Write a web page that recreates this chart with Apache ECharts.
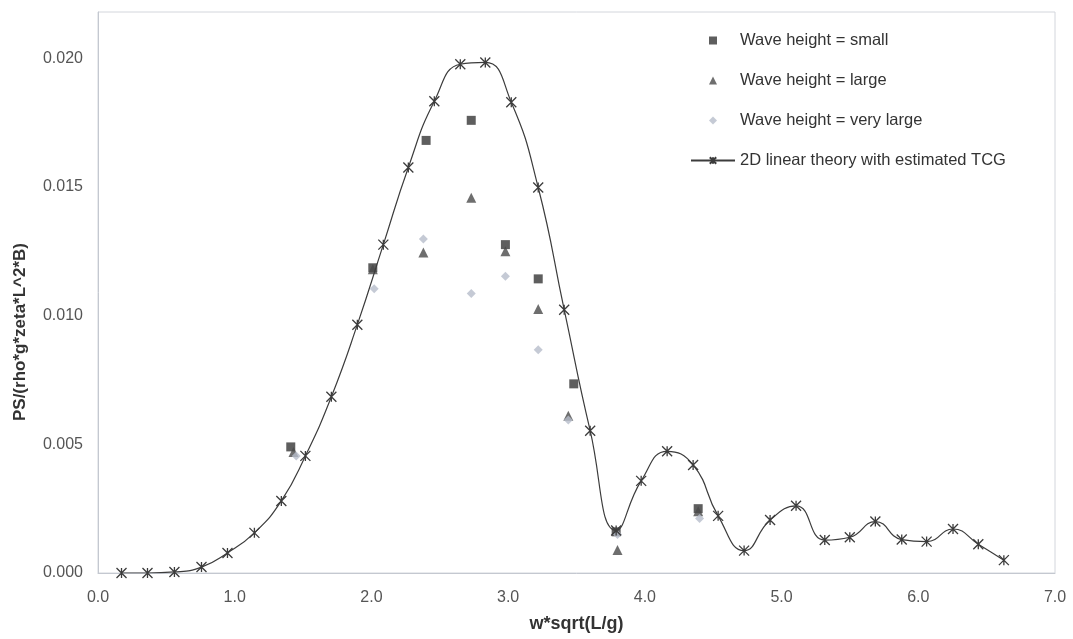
<!DOCTYPE html>
<html>
<head>
<meta charset="utf-8">
<script src="https://cdn.jsdelivr.net/npm/echarts@6/dist/echarts.min.js"></script>
<style>
html,body{margin:0;padding:0;background:#fff;}
#chart{width:1073px;height:639px;}
</style>
</head>
<body>
<div id="chart"></div>
<script>
// Theory curve (2D linear theory with estimated TCG)
var theoryX = [0.172,0.362,0.559,0.757,0.947,1.144,1.341,1.517,1.707,1.897,2.087,2.270,2.460,2.650,2.833,3.023,3.220,3.410,3.600,3.790,3.973,4.163,4.353,4.536,4.726,4.916,5.106,5.316,5.499,5.686,5.879,6.061,6.254,6.439,6.626];
var theoryY = [0.00000,0.00000,0.00004,0.00023,0.00078,0.00156,0.00280,0.00455,0.00685,0.00965,0.01276,0.01576,0.01833,0.01977,0.01984,0.01829,0.01498,0.01023,0.00553,0.00165,0.00358,0.00473,0.00420,0.00222,0.00087,0.00206,0.00261,0.00128,0.00139,0.00200,0.00130,0.00122,0.00171,0.00112,0.00050];

// Measurements
var smallX = [1.41,2.01,2.40,2.73,2.98,3.22,3.48,3.79,4.39];
var smallY = [0.00490,0.01186,0.01681,0.01759,0.01276,0.01143,0.00735,0.00160,0.00250];
var largeX = [1.43,2.01,2.38,2.73,2.98,3.22,3.44,3.80,4.39];
var largeY = [0.00470,0.01180,0.01245,0.01458,0.01250,0.01026,0.00611,0.00089,0.00240];
var vlargeX = [1.45,2.02,2.38,2.73,2.98,3.22,3.44,3.80,4.40];
var vlargeY = [0.00455,0.01105,0.01298,0.01086,0.01153,0.00868,0.00595,0.00150,0.00212];

var seriesNames = ['Wave height = small','Wave height = large','Wave height = very large','2D linear theory with estimated TCG'];
var xTitle = 'w*sqrt(L/g)';
var yTitle = 'PS/(rho*g*zeta*L^2*B)';

function pairs(xs, ys){ return xs.map(function(x,i){ return [x, ys[i]]; }); }

var asterisk = 'path://M0,0L10,10M10,0L0,10M5,0L5,10';
var iconSquare = 'path://M0,0L10,0L10,10L0,10Z';
var iconTriangle = 'path://M5,0L10,10L0,10Z';
var iconDiamond = 'path://M5,0L10,5L5,10L0,5Z';
var chart = echarts.init(document.getElementById('chart'), null, {renderer:'canvas'});
var fontFam = '"Liberation Sans", Arial, sans-serif';
chart.setOption({
  animation:false,
  backgroundColor:'#ffffff',
  grid:{left:98, top:12, width:957, bottom:66, show:true, borderColor:'#d3d6dc', borderWidth:1, backgroundColor:'transparent'},
  legend:{
    orient:'vertical', left:685, top:27, itemGap:23, itemWidth:44, itemHeight:8,
    textStyle:{fontFamily:fontFam, fontSize:16.5, color:'#333'},
    data:[
      {name:seriesNames[0], icon:iconSquare},
      {name:seriesNames[1], icon:iconTriangle},
      {name:seriesNames[2], icon:iconDiamond},
      {name:seriesNames[3]}
    ]
  },
  graphic:[{
    type:'text', x:20, y:332, rotation:Math.PI/2,
    style:{text:yTitle, font:'bold 17px "Liberation Sans", Arial, sans-serif', fill:'#333',
      align:'center', verticalAlign:'middle', textAlign:'center', textVerticalAlign:'middle'}
  }],
  xAxis:{
    type:'value', min:0, max:7, interval:1,
    name:xTitle, nameLocation:'middle', nameGap:42,
    nameTextStyle:{fontFamily:fontFam, fontSize:18, fontWeight:'bold', color:'#333'},
    axisLine:{show:true, lineStyle:{color:'#c4c8d0', width:1}},
    axisTick:{show:false},
    splitLine:{show:false},
    axisLabel:{fontFamily:fontFam, fontSize:16, color:'#555', margin:17,
      formatter:function(v){ return v.toFixed(1); }}
  },
  yAxis:{
    type:'value', min:0, max:0.0218, interval:0.005,
    axisLine:{show:true, lineStyle:{color:'#c4c8d0', width:1}},
    axisTick:{show:false},
    splitLine:{show:false},
    axisLabel:{fontFamily:fontFam, fontSize:16, color:'#555', margin:15, showMaxLabel:false,
      formatter:function(v){ var r=Math.round(v/0.005); if(Math.abs(v-r*0.005)>1e-6) return ''; return v.toFixed(3); }}
  },
  series:[
    {name:seriesNames[0], type:'scatter', symbol:'rect', symbolSize:9, z:3,
     itemStyle:{color:'#363636'}, data:pairs(smallX, smallY)},
    {name:seriesNames[1], type:'scatter', symbol:'triangle', symbolSize:10, z:3,
     itemStyle:{color:'#4a4a4a'}, data:pairs(largeX, largeY)},
    {name:seriesNames[2], type:'scatter', symbol:'diamond', symbolSize:9, z:3,
     itemStyle:{color:'#b6bdca'}, data:pairs(vlargeX, vlargeY)},
    {name:seriesNames[3], type:'line', smooth:0.5, symbol:asterisk, symbolSize:10, showSymbol:true, z:4,
     lineStyle:{color:'#3c3c3c', width:1.2},
     itemStyle:{color:'#3c3c3c', borderColor:'#3c3c3c', borderWidth:1.3},
     data:pairs(theoryX, theoryY)}
  ]
});
</script>
</body>
</html>
